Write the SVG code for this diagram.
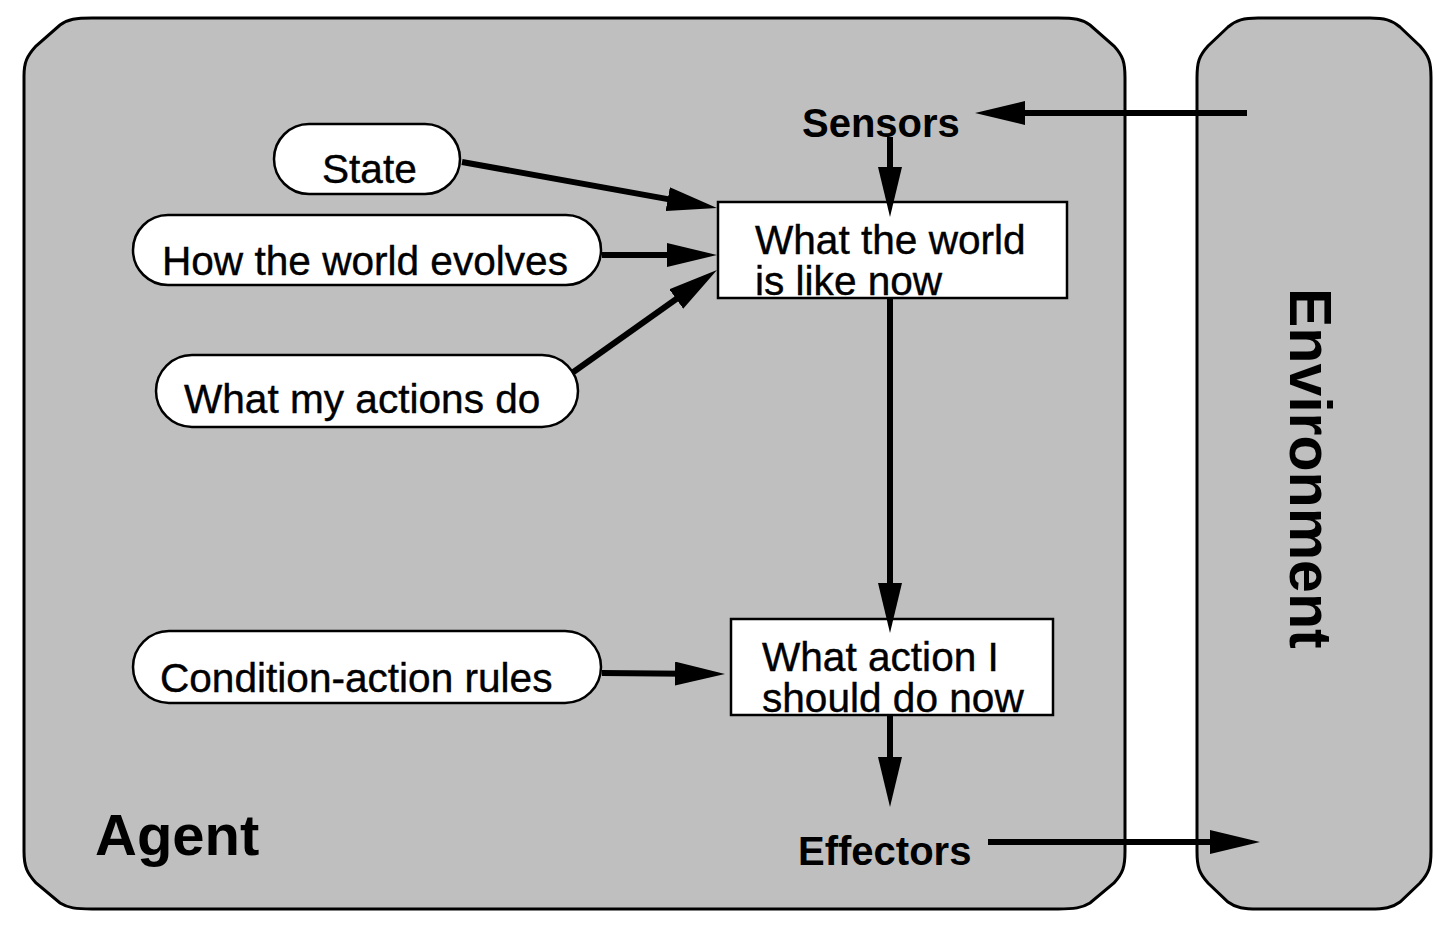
<svg xmlns="http://www.w3.org/2000/svg" width="1442" height="938" viewBox="0 0 1442 938">
<defs>
<style>
.panel{fill:#bfbfbf;stroke:#000;stroke-width:3}
.pill{fill:#fff;stroke:#000;stroke-width:2.5}
.box{fill:#fff;stroke:#000;stroke-width:2.5}
.t{font-family:"Liberation Sans",Arial,sans-serif;font-size:40.6px;fill:#000;stroke:#000;stroke-width:0.4}
.b{font-family:"Liberation Sans",Arial,sans-serif;font-weight:bold;font-size:40px;fill:#000}
.c{stroke:#000;stroke-width:6;fill:none;marker-end:url(#ah)}
</style>
<marker id="ah" markerUnits="userSpaceOnUse" markerWidth="50" markerHeight="24" refX="10" refY="12" orient="auto" viewBox="0 0 50 24">
<path d="M0,0 L50,12 L0,24 Z" fill="#000"/>
</marker>
</defs>
<rect width="1442" height="938" fill="#fff"/>
<g id="agent">
<path class="panel" d="M24,76 C24,62 27,56 36,46 L60,25 C68,19 76,18 92,18 L1058,18 C1074,18 1082,19 1090,25 L1114,46 C1123,56 1125,62 1125,78 L1125,851 C1125,867 1123,873 1114,883 L1090,903 C1082,908 1074,909 1058,909 L92,909 C76,909 68,908 60,903 L36,883 C27,873 24,867 24,851 Z"/>
<text class="b" x="95" y="855" style="font-size:58px">Agent</text>
</g>
<g id="environment">
<path class="panel" d="M1197,78 C1197,62 1199,56 1208,46 L1228,27 C1236,20 1244,18 1258,18 L1370,18 C1384,18 1392,20 1400,27 L1420,46 C1429,56 1431,62 1431,78 L1431,851 C1431,867 1429,873 1420,883 L1400,902 C1392,908 1384,909 1370,909 L1258,909 C1244,909 1236,908 1228,902 L1208,883 C1199,873 1197,867 1197,851 Z"/>
<text class="b" transform="translate(1290,288) rotate(90)" style="font-size:59px">Environment</text>
</g>
<g id="sensors"><text class="b" x="802" y="137">Sensors</text></g>
<g id="effectors"><text class="b" x="798" y="865">Effectors</text></g>
<g id="state">
<rect class="pill" x="274" y="124" width="186" height="70" rx="35" ry="35"/>
<text class="t" x="322" y="183">State</text>
</g>
<g id="evolves">
<rect class="pill" x="133" y="215" width="468" height="70" rx="35" ry="35"/>
<text class="t" x="162" y="275">How the world evolves</text>
</g>
<g id="actions">
<rect class="pill" x="156" y="355" width="422" height="72" rx="36" ry="36"/>
<text class="t" x="184" y="413">What my actions do</text>
</g>
<g id="rules">
<rect class="pill" x="133" y="631" width="468" height="72" rx="36" ry="36"/>
<text class="t" x="160" y="692">Condition-action rules</text>
</g>
<g id="world-now">
<rect class="box" x="718" y="202" width="349" height="96"/>
<text class="t" x="755" y="254">What the world</text>
<text class="t" x="755" y="295">is like now</text>
</g>
<g id="action-now">
<rect class="box" x="731" y="619" width="322" height="96"/>
<text class="t" x="762" y="671">What action I</text>
<text class="t" x="762" y="712">should do now</text>
</g>
<g id="connectors">
<line class="c" x1="462" y1="162" x2="677.6" y2="200.9"/>
<line class="c" x1="602" y1="255" x2="677" y2="255"/>
<line class="c" x1="572" y1="373" x2="684.4" y2="293.2"/>
<line class="c" x1="890" y1="137" x2="890" y2="177"/>
<line class="c" x1="890" y1="298" x2="890" y2="593"/>
<line class="c" x1="602" y1="673" x2="685" y2="673.7"/>
<line class="c" x1="890" y1="715" x2="890" y2="767"/>
<line class="c" x1="1247" y1="113" x2="1015" y2="113"/>
<line class="c" x1="988" y1="842" x2="1220" y2="842"/>
</g>
</svg>
